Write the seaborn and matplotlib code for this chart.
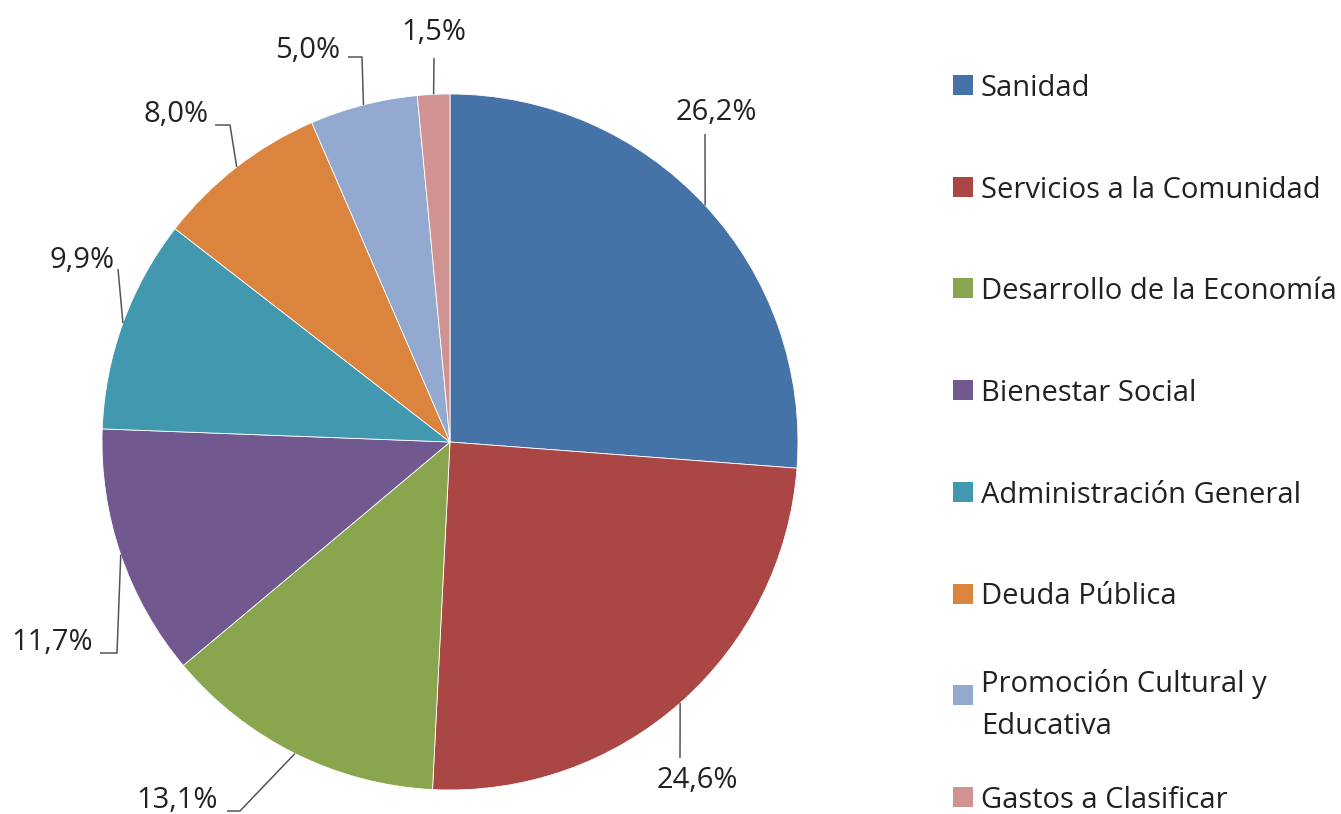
import matplotlib
matplotlib.use('Agg')
import matplotlib.pyplot as plt
import numpy as np
import seaborn as sns

categorias = ['Sanidad', 'Servicios a la Comunidad', 'Desarrollo de la Economía', 'Bienestar Social',
              'Administración General', 'Deuda Pública', 'Promoción Cultural y\nEducativa',
              'Gastos a Clasificar']
porcentajes = [26.2, 24.6, 13.1, 11.7, 9.9, 8.0, 5.0, 1.5]
colores = ['#4572A7', '#AA4643', '#89A54E', '#71588F', '#4198AF', '#DB843D', '#93A9CF', '#D19392']
etiquetas = [f'{v:.1f}%'.replace('.', ',') for v in porcentajes]

W, H = 1341, 814
sns.set_theme(style='white')
plt.rcParams['font.family'] = ['Open Sans', 'DejaVu Sans']

fig = plt.figure(figsize=(W / 100, H / 100), dpi=100)
ax = fig.add_axes([0, 0, 1, 1])

# pie (pixel-like coords, y up)
cx, cy, r = 450, 442, 348
wedges, _ = ax.pie(porcentajes, colors=sns.color_palette(colores), startangle=90, counterclock=False,
                   center=(cx, H - cy), radius=r,
                   wedgeprops=dict(edgecolor='white', linewidth=0.6))
ax.set_xlim(0, W)
ax.set_ylim(0, H)
ax.axis('off')

# label placement + leader elbows (pixels from top-left)
rotulos = [
    ((716, 113), [(705, 134)]),
    ((697, 780), [(680, 758)]),
    ((177, 800), [(240, 811), (227, 811)]),
    ((52, 643), [(117, 653), (100, 653)]),
    ((82, 260), [(118, 269)]),
    ((176, 115), [(230, 125), (215, 125)]),
    ((308, 50), [(362, 57), (348, 57)]),
    ((434, 32), [(434, 58)]),
]

for w, txt, (pos, codo) in zip(wedges, etiquetas, rotulos):
    ang = np.deg2rad((w.theta1 + w.theta2) / 2)
    ex, ey = w.center[0] + w.r * np.cos(ang), w.center[1] + w.r * np.sin(ang)
    xs = [ex] + [p[0] for p in codo]
    ys = [ey] + [H - p[1] for p in codo]
    ax.plot(xs, ys, color='#555555', lw=1.1, solid_capstyle='butt')
    ax.text(pos[0], H - pos[1], txt, ha='center', va='center', fontsize=21, color='#222222')

# legend drawn by hand (Excel style slots)
for i, (cat, col) in enumerate(zip(categorias, colores)):
    y = H - (85 + i * 101.7)
    ax.scatter([963], [y], marker='s', s=200, color=col, linewidths=0)
    ax.text(981, y, cat, ha='left', va='center_baseline', fontsize=21, color='#222222',
            linespacing=1.6)

fig.savefig('out.png', dpi=100)
